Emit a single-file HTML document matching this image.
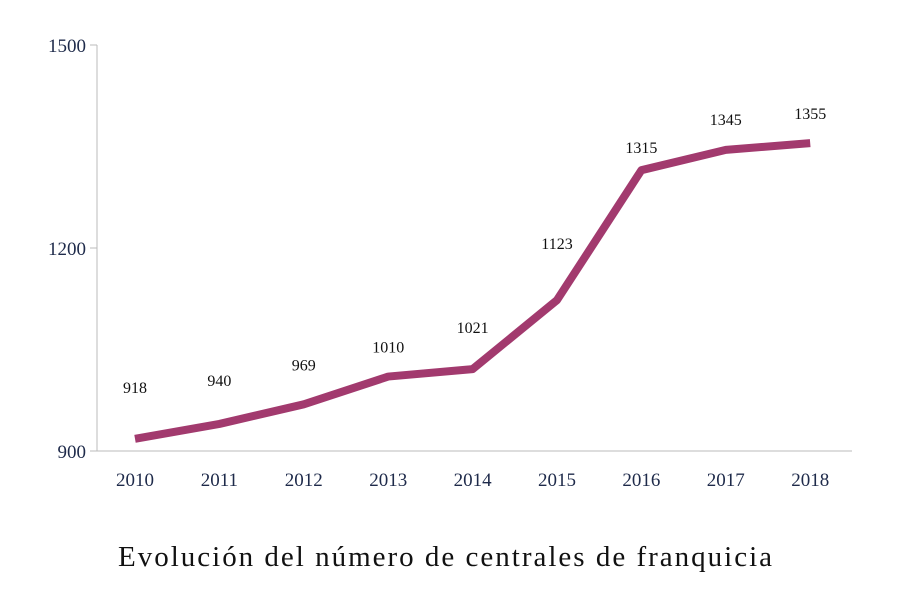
<!DOCTYPE html>
<html><head><meta charset="utf-8"><style>
html,body{margin:0;padding:0;background:#fff;}
svg{display:block;font-family:"Liberation Serif",serif;}
</style></head><body>
<svg width="900" height="599" viewBox="0 0 900 599">
<g id="axes"></g>
<g id="series"></g>
<text x="118" y="566" font-size="29" fill="#111" textLength="654" lengthAdjust="spacing">Evolución  del número de centrales de franquicia</text>
</svg>
<script>
const years = ["2010","2011","2012","2013","2014","2015","2016","2017","2018"];
const values = [918,940,969,1010,1021,1123,1315,1345,1355];
const yTicks = [900,1200,1500];
const labelDy = [46,38,34,24,36,51,17,25,24];
const NS="http://www.w3.org/2000/svg";
const x0=135, xStep=84.4, yMin=900, yMax=1500, yBot=451, yTop=45;
const xs=i=>x0+i*xStep;
const ys=v=>yBot-(v-yMin)/(yMax-yMin)*(yBot-yTop);
function mk(tag,attrs,parent,text){const e=document.createElementNS(NS,tag);for(const k in attrs)e.setAttribute(k,attrs[k]);if(text!==undefined)e.textContent=text;parent.appendChild(e);return e;}
const ax=document.getElementById('axes'), se=document.getElementById('series');
const yl=mk('line',{x1:97,y1:yTop,x2:97,y2:yBot,stroke:'#bbb','stroke-width':1},ax);


const xl=mk('line',{x1:97,y1:yBot,x2:852,y2:yBot,stroke:'#bbb','stroke-width':1},ax);


yTicks.forEach(t=>{
  const tk=mk('line',{x1:90,y1:ys(t),x2:97,y2:ys(t),stroke:'#bbb'},ax);
  
  
  const tl=mk('text',{x:86,y:ys(t)+7,'text-anchor':'end','font-size':19,fill:'#1e2a4a'},ax,String(t));
  
  
});
years.forEach((y,i)=>{
  const tl=mk('text',{x:xs(i),y:486,'text-anchor':'middle','font-size':19,fill:'#1e2a4a'},ax,y);
  
  
});
const pts=values.map((v,i)=>xs(i)+','+ys(v)).join(' ');
const pl=mk('polyline',{points:pts,fill:'none',stroke:'#a23a6e','stroke-width':8,'stroke-linejoin':'round','stroke-linecap':'butt'},se);


values.forEach((v,i)=>{
  const t=mk('text',{x:xs(i),y:ys(v)-labelDy[i],'text-anchor':'middle','font-size':16,fill:'#111'},se,String(v));
  
  
});
</script>
</body></html>
